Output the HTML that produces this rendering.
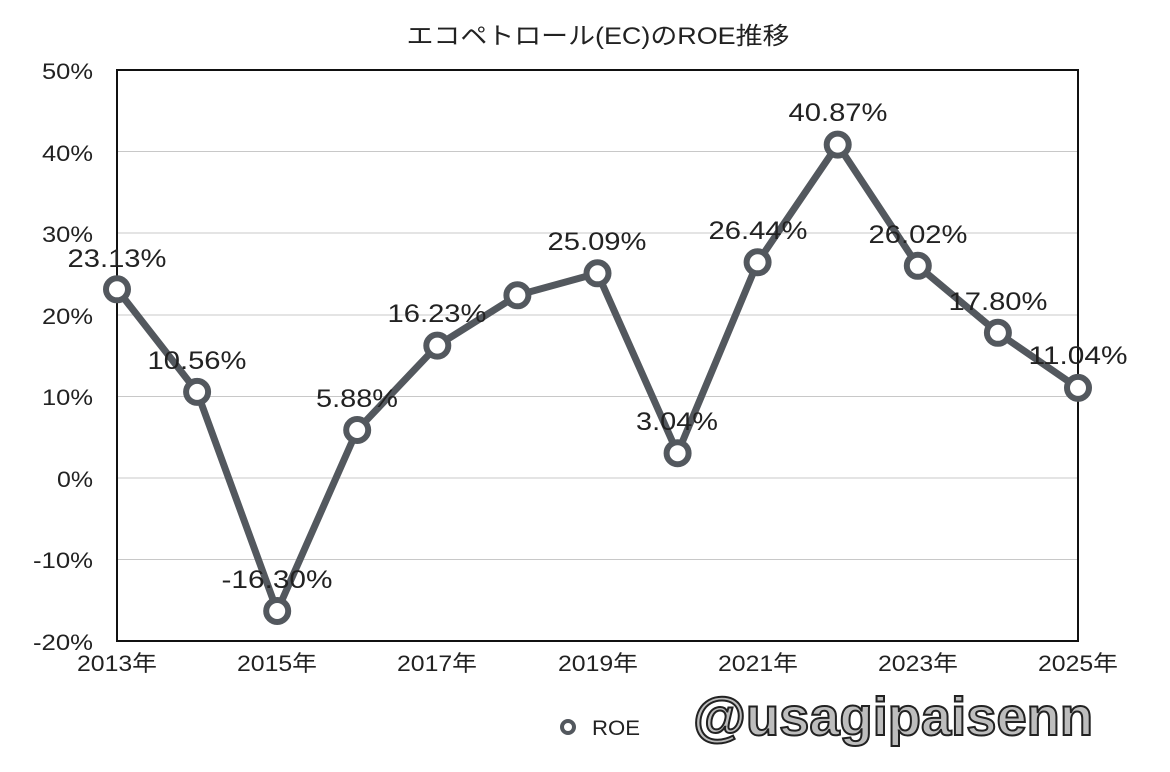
<!DOCTYPE html>
<html><head><meta charset="utf-8"><style>
html,body{margin:0;padding:0;background:#fff;}
svg{display:block;font-family:"Liberation Sans","Noto Sans CJK JP",sans-serif;}
</style></head><body>
<svg width="1170" height="772" viewBox="0 0 1170 772" xmlns="http://www.w3.org/2000/svg">
<rect width="1170" height="772" fill="#fff"/>
<text x="598" y="44" font-size="24" text-anchor="middle" fill="#222" textLength="383" lengthAdjust="spacingAndGlyphs">エコペトロール(EC)のROE推移</text>
<g stroke="#c8c8c8" stroke-width="1">
<line x1="117" y1="151.5" x2="1078" y2="151.5"/>
<line x1="117" y1="233" x2="1078" y2="233"/>
<line x1="117" y1="315" x2="1078" y2="315"/>
<line x1="117" y1="396.5" x2="1078" y2="396.5"/>
<line x1="117" y1="478" x2="1078" y2="478"/>
<line x1="117" y1="559.5" x2="1078" y2="559.5"/>
</g>
<rect x="117" y="70" width="961" height="571" fill="none" stroke="#111" stroke-width="2"/>
<g font-size="22" fill="#222" text-anchor="end">
<text x="93" y="79" textLength="51" lengthAdjust="spacingAndGlyphs">50%</text>
<text x="93" y="161" textLength="51" lengthAdjust="spacingAndGlyphs">40%</text>
<text x="93" y="242" textLength="51" lengthAdjust="spacingAndGlyphs">30%</text>
<text x="93" y="324" textLength="51" lengthAdjust="spacingAndGlyphs">20%</text>
<text x="93" y="405" textLength="51" lengthAdjust="spacingAndGlyphs">10%</text>
<text x="93" y="487" textLength="36" lengthAdjust="spacingAndGlyphs">0%</text>
<text x="93" y="568" textLength="60" lengthAdjust="spacingAndGlyphs">-10%</text>
<text x="93" y="650" textLength="60" lengthAdjust="spacingAndGlyphs">-20%</text>
</g>
<g font-size="22" fill="#222" text-anchor="middle">
<text x="117" y="671" textLength="80" lengthAdjust="spacingAndGlyphs">2013年</text>
<text x="277" y="671" textLength="80" lengthAdjust="spacingAndGlyphs">2015年</text>
<text x="437" y="671" textLength="80" lengthAdjust="spacingAndGlyphs">2017年</text>
<text x="598" y="671" textLength="80" lengthAdjust="spacingAndGlyphs">2019年</text>
<text x="758" y="671" textLength="80" lengthAdjust="spacingAndGlyphs">2021年</text>
<text x="918" y="671" textLength="80" lengthAdjust="spacingAndGlyphs">2023年</text>
<text x="1078" y="671" textLength="80" lengthAdjust="spacingAndGlyphs">2025年</text>
</g>
<polyline fill="none" stroke="#53585e" stroke-width="7" stroke-linejoin="round" points="117,289.3 197.1,391.9 277.2,611 357.2,430 437.3,345.6 517.4,295.3 597.5,273.3 677.6,453.2 757.6,262.3 837.7,144.6 917.8,265.8 997.9,332.8 1078,387.9"/>
<g fill="#fff" stroke="#53585e" stroke-width="6">
<circle cx="117" cy="289.3" r="11"/><circle cx="197.1" cy="391.9" r="11"/><circle cx="277.2" cy="611" r="11"/><circle cx="357.2" cy="430" r="11"/><circle cx="437.3" cy="345.6" r="11"/><circle cx="517.4" cy="295.3" r="11"/><circle cx="597.5" cy="273.3" r="11"/><circle cx="677.6" cy="453.2" r="11"/><circle cx="757.6" cy="262.3" r="11"/><circle cx="837.7" cy="144.6" r="11"/><circle cx="917.8" cy="265.8" r="11"/><circle cx="997.9" cy="332.8" r="11"/><circle cx="1078" cy="387.9" r="11"/>
</g>
<g font-size="25" fill="#222" text-anchor="middle">
<text x="117" y="267" textLength="99" lengthAdjust="spacingAndGlyphs">23.13%</text>
<text x="197" y="369" textLength="99" lengthAdjust="spacingAndGlyphs">10.56%</text>
<text x="277" y="588" textLength="111" lengthAdjust="spacingAndGlyphs">-16.30%</text>
<text x="357" y="407" textLength="82" lengthAdjust="spacingAndGlyphs">5.88%</text>
<text x="437" y="322" textLength="99" lengthAdjust="spacingAndGlyphs">16.23%</text>
<text x="597" y="250" textLength="99" lengthAdjust="spacingAndGlyphs">25.09%</text>
<text x="677" y="430" textLength="82" lengthAdjust="spacingAndGlyphs">3.04%</text>
<text x="758" y="239" textLength="99" lengthAdjust="spacingAndGlyphs">26.44%</text>
<text x="838" y="121" textLength="99" lengthAdjust="spacingAndGlyphs">40.87%</text>
<text x="918" y="243" textLength="99" lengthAdjust="spacingAndGlyphs">26.02%</text>
<text x="998" y="310" textLength="99" lengthAdjust="spacingAndGlyphs">17.80%</text>
<text x="1078" y="364" textLength="99" lengthAdjust="spacingAndGlyphs">11.04%</text>
</g>
<circle cx="568" cy="727" r="6" fill="#fff" stroke="#53585e" stroke-width="4"/>
<text x="592" y="735" font-size="21" fill="#222" textLength="48" lengthAdjust="spacingAndGlyphs">ROE</text>
<text x="693" y="735" font-size="54" font-weight="bold" fill="#bdbdbd" stroke="#222" stroke-width="2" textLength="400" lengthAdjust="spacingAndGlyphs">@usagipaisenn</text>
</svg>
</body></html>
